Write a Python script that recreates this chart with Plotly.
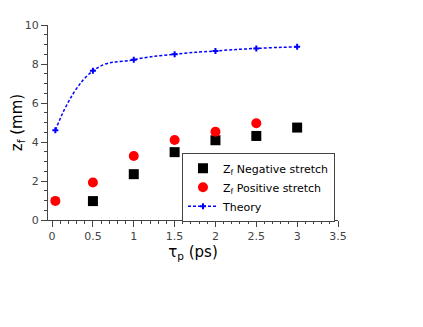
import plotly.graph_objects as go

# Data
tau_theory = [0.04, 0.5, 1.0, 1.5, 2.0, 2.5, 3.0]
zf_theory = [4.6, 7.65, 8.22, 8.5, 8.67, 8.8, 8.88]

tau_pos = [0.04, 0.5, 1.0, 1.5, 2.0, 2.5]
zf_pos = [0.98, 1.92, 3.28, 4.1, 4.53, 4.96]

tau_neg = [0.5, 1.0, 1.5, 2.0, 2.5, 3.0]
zf_neg = [0.97, 2.35, 3.48, 4.09, 4.31, 4.74]

font_family = "DejaVu Sans"

fig = go.Figure()

fig.add_trace(go.Scatter(
    x=tau_neg, y=zf_neg, mode="markers",
    name="Z<sub>f</sub> Negative stretch",
    marker=dict(symbol="square", size=10, color="black"),
))
fig.add_trace(go.Scatter(
    x=tau_pos, y=zf_pos, mode="markers",
    name="Z<sub>f</sub> Positive stretch",
    marker=dict(symbol="circle", size=10, color="red"),
))
fig.add_trace(go.Scatter(
    x=tau_theory, y=zf_theory, mode="lines+markers",
    name="Theory",
    line=dict(color="blue", width=1.5, dash="3px,2px", shape="spline", smoothing=1.3),
    marker=dict(symbol="cross", size=5, color="blue"),
))

# Size and margins (page body has an 8px margin)
fig.update_layout(
    width=423, height=327, autosize=False,
    margin=dict(l=39.5, r=92.8, t=17, b=115, autoexpand=False),
    plot_bgcolor="white", paper_bgcolor="white",
    font=dict(family=font_family, size=11, color="#444"),
    legend=dict(
        x=0.462, y=0.345, xanchor="left", yanchor="top",
        bordercolor="#444", borderwidth=1, bgcolor="white",
        font=dict(size=11, color="black"),
        tracegroupgap=0, itemwidth=30,
    ),
)

# Axis layout
fig.update_xaxes(
    range=[-0.05, 3.5], dtick=0.5, tick0=0, automargin=False,
    showgrid=False, zeroline=False,
    showline=True, linecolor="#444", linewidth=1,
    ticks="outside", ticklen=6, tickcolor="#444",
    minor=dict(dtick=0.1, tick0=0, ticks="outside", ticklen=3, tickcolor="#444"),
    tickfont=dict(size=11, color="#444"),
    title=dict(text="τ<sub>p</sub> (ps)", font=dict(size=15, color="black"), standoff=4),
)
fig.update_yaxes(
    range=[0, 10], dtick=2, tick0=0, automargin=False,
    showgrid=False, zeroline=False,
    showline=True, linecolor="#444", linewidth=1,
    ticks="outside", ticklen=6, tickcolor="#444",
    minor=dict(dtick=0.5, tick0=0, ticks="outside", ticklen=3, tickcolor="#444"),
    tickfont=dict(size=11, color="#444"),
    title=dict(text="z<sub>f</sub> (mm)", font=dict(size=15, color="black"), standoff=6),
)

fig.write_html("out.html")
